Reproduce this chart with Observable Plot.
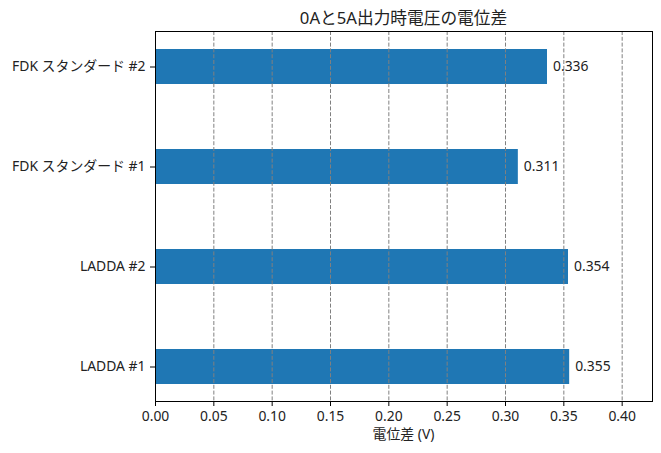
<!DOCTYPE html>
<html>
<head>
<meta charset="utf-8">
<script src="https://cdn.jsdelivr.net/npm/d3@7"></script>
<script src="https://cdn.jsdelivr.net/npm/@observablehq/plot@0.6"></script>
<style>
  html, body { margin: 0; padding: 0; background: #fff; }
  #chart svg { display: block; }
</style>
</head>
<body>
<div id="chart"></div>
<script>
const categories = ["LADDA #1", "LADDA #2", "FDK スタンダード #1", "FDK スタンダード #2"];
const values = [0.355, 0.354, 0.311, 0.336];
const xTicks = [0, 0.05, 0.10, 0.15, 0.20, 0.25, 0.30, 0.35, 0.40];
const titleText = "0Aと5A出力時電圧の電位差";
const xLabel = "電位差 (V)";

const data = categories.map((c, i) => ({category: c, value: values[i]}));
const font = "'Noto Sans', 'Noto Sans CJK JP', sans-serif";

const W = 661, H = 453;
const mL = 155, mR = 9, mT = 31, mB = 52;
const fs = 13.9;

const chart = Plot.plot({
  width: W,
  height: H,
  marginLeft: mL,
  marginRight: mR,
  marginTop: mT,
  marginBottom: mB,
  style: {fontFamily: font, fontSize: fs + "px", color: "#222", background: "#fff"},
  x: {domain: [0, 0.426], ticks: xTicks, tickFormat: d => d.toFixed(2), label: null},
  y: {domain: [...categories].reverse(), paddingInner: 0.65, paddingOuter: 0.1675, label: null},
  marks: [
    Plot.barX(data, {x: "value", y: "category", fill: "#1f77b4"}),
    Plot.ruleX(xTicks, {stroke: "#808080", strokeWidth: 1, strokeDasharray: "4,1.8"}),
    Plot.text(data, {x: "value", y: "category", text: d => d.value.toFixed(3), textAnchor: "start", dx: 5.5, fill: "#222", fontSize: fs}),
    Plot.frame({stroke: "#000", strokeWidth: 1}),
    Plot.axisX({ticks: xTicks, tickFormat: d => d.toFixed(2), label: null, tickSize: 5, tickPadding: 5, fontSize: fs, stroke: "#000"}),
    Plot.axisY({label: null, tickSize: 5, tickPadding: 5, fontSize: fs, stroke: "#000"})
  ]
});

const svg = d3.select(chart);
svg.append("text")
  .attr("x", (mL + (W - mR)) / 2)
  .attr("y", 24)
  .attr("text-anchor", "middle")
  .attr("font-family", font)
  .attr("font-size", 16.7)
  .attr("fill", "#222")
  .text(titleText);
svg.append("text")
  .attr("x", (mL + (W - mR)) / 2)
  .attr("y", 439)
  .attr("text-anchor", "middle")
  .attr("font-family", font)
  .attr("font-size", fs)
  .attr("fill", "#222")
  .text(xLabel);

document.getElementById("chart").appendChild(chart);
</script>
</body>
</html>
